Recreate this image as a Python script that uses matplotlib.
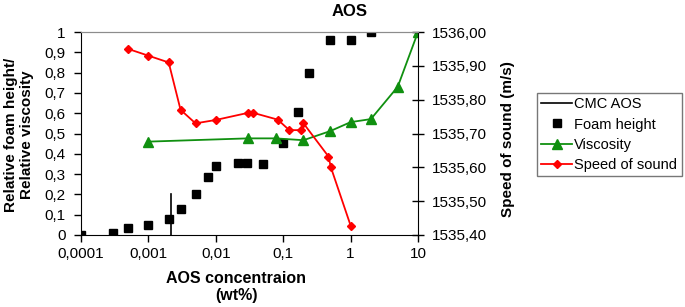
import matplotlib
matplotlib.use("Agg")
import matplotlib.pyplot as plt
import matplotlib.ticker as mtick

plt.rcParams["font.family"] = ["Liberation Sans", "DejaVu Sans"]

# Foam height (relative, left axis)
foam_conc = [0.0001, 0.0003, 0.0005, 0.001, 0.002, 0.003, 0.005, 0.0076, 0.01,
             0.021, 0.029, 0.051, 0.1, 0.168, 0.245, 0.5, 1, 2]
foam_height = [0.0, 0.01, 0.035, 0.048, 0.08, 0.13, 0.2, 0.286, 0.341,
               0.356, 0.356, 0.348, 0.452, 0.605, 0.80, 0.96, 0.96, 1.0]

# Viscosity (relative, left axis)
visc_conc = [0.001, 0.03, 0.077, 0.2, 0.5, 1, 2, 5, 10]
viscosity = [0.46, 0.476, 0.476, 0.467, 0.512, 0.556, 0.571, 0.73, 1.0]

# Speed of sound (m/s, right axis)
sos_conc = [0.0005, 0.001, 0.002, 0.003, 0.005, 0.01, 0.03, 0.036, 0.083,
            0.123, 0.184, 0.2, 0.47, 0.51, 1]
speed_of_sound = [1535.95, 1535.93, 1535.91, 1535.77, 1535.73, 1535.74, 1535.761,
                  1535.761, 1535.741, 1535.71, 1535.71, 1535.73, 1535.632,
                  1535.60, 1535.428]

# CMC marker line
cmc_conc = [0.0022, 0.0022]
cmc_level = [0.0, 0.2]

x_ticks = [0.0001, 0.001, 0.01, 0.1, 1, 10]
x_labels = ["0,0001", "0,001", "0,01", "0,1", "1", "10"]

fig = plt.figure(figsize=(6.85, 3.07), dpi=100)
ax = fig.add_axes([81 / 685, 1 - 235 / 307, 337 / 685, 203 / 307])
ax2 = ax.twinx()

l_cmc, = ax.plot(cmc_conc, cmc_level, color="black", linewidth=1.2, label="CMC AOS")
l_foam, = ax.plot(foam_conc, foam_height, linestyle="none", marker="s",
                  markersize=6, color="black", label="Foam height")
l_visc, = ax.plot(visc_conc, viscosity, color="#109010", linewidth=1.3,
                  marker="^", markersize=6.5, label="Viscosity")
l_sos, = ax2.plot(sos_conc, speed_of_sound, color="#FF0000", linewidth=1.3,
                  marker="D", markersize=4.5, label="Speed of sound")

ax.set_xscale("log")
ax.set_xlim(0.0001, 10)
ax.set_xticks(x_ticks)
ax.set_xticklabels(x_labels)
ax.xaxis.set_minor_locator(mtick.NullLocator())
ax.set_ylim(0, 1)
ax.set_yticks([i / 10 for i in range(11)])
ax.yaxis.set_major_formatter(mtick.FuncFormatter(
    lambda v, _: ("%g" % round(v, 1)).replace(".", ",")))
ax2.set_ylim(1535.4, 1536.0)
ax2.set_yticks([1535.4, 1535.5, 1535.6, 1535.7, 1535.8, 1535.9, 1536.0])
ax2.yaxis.set_major_formatter(mtick.FuncFormatter(
    lambda v, _: f"{v:.2f}".replace(".", ",")))

ax.tick_params(axis="both", labelsize=11, direction="out", length=5, width=1)
ax.tick_params(axis="y", pad=6)
ax2.tick_params(axis="y", labelsize=11, direction="inout", length=8, width=1, pad=6)

for a in (ax, ax2):
    a.spines["top"].set_color("#8c8c8c")
    a.spines["left"].set_color("black")
    a.spines["bottom"].set_color("black")
    a.spines["right"].set_color("black")
ax.spines["right"].set_visible(False)
ax2.spines["left"].set_visible(False)
ax2.spines["bottom"].set_visible(False)

fig.text(350 / 685, 1 - 12 / 307, "AOS", ha="center", va="center",
         fontsize=12, fontweight="bold")
fig.text(236 / 685, 1 - 287 / 307, "AOS concentraion\n(wt%)", ha="center",
         va="center", fontsize=11.5, fontweight="bold", linespacing=1.15)
fig.text(19 / 685, 1 - 135 / 307, "Relative foam height/\nRelative viscosity",
         ha="center", va="center", rotation=90, fontsize=11, fontweight="bold",
         linespacing=1.15)
fig.text(508 / 685, 1 - 139 / 307, "Speed of sound (m/s)", ha="center",
         va="center", rotation=90, fontsize=11, fontweight="bold")

leg = fig.legend(handles=[l_cmc, l_foam, l_visc, l_sos], loc="upper left",
                 bbox_to_anchor=(537 / 685, 1 - 93 / 307), fontsize=10.5,
                 frameon=True, fancybox=False, borderpad=0.3, labelspacing=0.42,
                 handlelength=2.1, handletextpad=0.15, borderaxespad=0)
leg.get_frame().set_edgecolor("#555555")
leg.get_frame().set_linewidth(1)

fig.savefig("out.png", dpi=100)
